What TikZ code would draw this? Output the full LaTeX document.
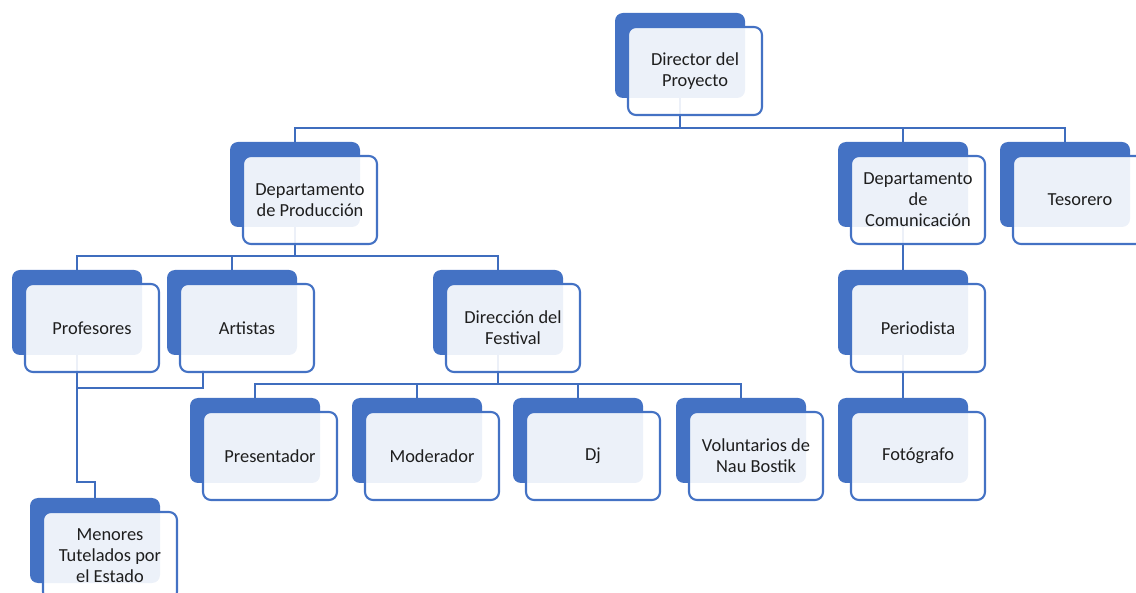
\documentclass[tikz,border=0pt]{standalone}
\usepackage{fontspec}
\setmainfont{Carlito}
\usepackage{tikz}
\usetikzlibrary{positioning}
\definecolor{officeblue}{HTML}{4472C4}
\definecolor{linkblue}{HTML}{3F6DBE}
\definecolor{txtgray}{HTML}{1E1E1E}
\tikzstyle{backbox} = [rectangle, rounded corners=8pt, minimum width=130pt, minimum height=85pt, fill=officeblue, inner sep=0pt]
\tikzstyle{frontbox} = [rectangle, rounded corners=8pt, minimum width=134pt, minimum height=88pt, align=center, draw=officeblue, line width=2.1pt, fill=white, fill opacity=0.9, text opacity=1, text=txtgray, inner sep=0pt, font=\fontsize{18.4}{21}\selectfont, xshift=15pt, yshift=-15.5pt]
\tikzstyle{link} = [draw=linkblue, line width=2.2pt]

\begin{document}
\begin{tikzpicture}[x=1pt, y=-1pt]
\useasboundingbox (0,0) rectangle (1136,593);

% back boxes
\node (dirB) [backbox] at (680,55.5) {};
\node (prodB) [backbox] at (295,184.5) {};
\node (comB) [backbox] at (903,184.5) {};
\node (tesB) [backbox] at (1065,184.5) {};
\node (profB) [backbox] at (77,312.5) {};
\node (artB) [backbox] at (232,312.5) {};
\node (festB) [backbox] at (498,312.5) {};
\node (perB) [backbox] at (903,312.5) {};
\node (presB) [backbox] at (255,440.5) {};
\node (modB) [backbox] at (417,440.5) {};
\node (djB) [backbox] at (578,440.5) {};
\node (volB) [backbox] at (741,440.5) {};
\node (fotB) [backbox] at (903,440.5) {};
\node (menB) [backbox] at (95,540.5) {};

% connectors
\coordinate (bus1) at (680,128);
\coordinate (bus2) at (295,256);
\coordinate (bus3) at (498,384);
\coordinate (artOut) at (203,370);
\coordinate (join) at (77,388);
\coordinate (kink) at (77,482);

\draw [link] (dirB.south) -- (bus1);
\draw [link] (prodB.north) |- (bus1) -| (tesB.north);
\draw [link] (comB.north) -- (comB.north |- bus1);

\draw [link] (prodB.south) -- (bus2);
\draw [link] (profB.north) |- (bus2) -| (festB.north);
\draw [link] (artB.north) -- (artB.north |- bus2);

\draw [link] (festB.south) -- (bus3);
\draw [link] (presB.north) |- (bus3) -| (volB.north);
\draw [link] (modB.north) -- (modB.north |- bus3);
\draw [link] (djB.north) -- (djB.north |- bus3);

\draw [link] (comB.south) -- (perB.north);
\draw [link] (perB.south) -- (fotB.north);

\draw [link] (artOut) |- (join);
\draw [link] (profB.south) -- (kink) -| (menB.north);

% front boxes
\node (dir) [frontbox] at (dirB) {Director del\\Proyecto};
\node (prod) [frontbox] at (prodB) {Departamento\\de Producción};
\node (com) [frontbox] at (comB) {Departamento\\de\\Comunicación};
\node (tes) [frontbox] at (tesB) {Tesorero};
\node (prof) [frontbox] at (profB) {Profesores};
\node (art) [frontbox] at (artB) {Artistas};
\node (fest) [frontbox] at (festB) {Dirección del\\Festival};
\node (per) [frontbox] at (perB) {Periodista};
\node (pres) [frontbox] at (presB) {Presentador};
\node (mod) [frontbox] at (modB) {Moderador};
\node (dj) [frontbox] at (djB) {Dj};
\node (vol) [frontbox] at (volB) {Voluntarios de\\Nau Bostik};
\node (fot) [frontbox] at (fotB) {Fotógrafo};
\node (men) [frontbox] at (menB) {Menores\\Tutelados por\\el Estado};

\end{tikzpicture}
\end{document}
